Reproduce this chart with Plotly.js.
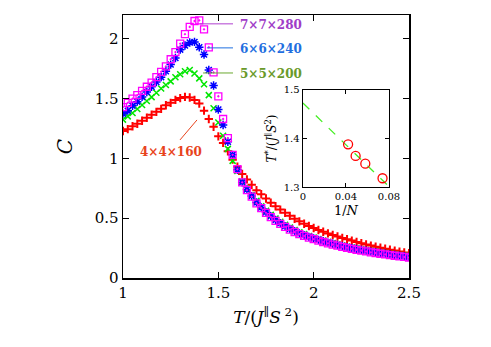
<!DOCTYPE html>
<html>
<head>
<meta charset="utf-8">
<script src="https://cdn.plot.ly/plotly-3.0.1.min.js"></script>
<style>
  html, body { margin: 0; padding: 0; background: #fff; }
  #chart { width: 491px; height: 347px; }
</style>
</head>
<body>
<div id="chart"></div>
<script>
(function () {

	'use strict';

	// temperature grid T/(J S^2)
	const tGrid = [
		1.000, 1.025, 1.050, 1.075, 1.100, 1.125, 1.150, 1.175, 1.200, 1.225,
		1.250, 1.275, 1.300, 1.325, 1.350, 1.375, 1.400, 1.425, 1.450, 1.475,
		1.500, 1.525, 1.550, 1.575, 1.600, 1.625, 1.650, 1.675, 1.700, 1.725,
		1.750, 1.775, 1.800, 1.825, 1.850, 1.875, 1.900, 1.925, 1.950, 1.975,
		2.000, 2.025, 2.050, 2.075, 2.100, 2.125, 2.150, 2.175, 2.200, 2.225,
		2.250, 2.275, 2.300, 2.325, 2.350, 2.375, 2.400, 2.425, 2.450, 2.475,
		2.500
	];

	// specific heat, 4x4x160
	const c4 = [
		1.230, 1.245, 1.270, 1.290, 1.315, 1.340, 1.365, 1.390, 1.415, 1.445,
		1.465, 1.490, 1.505, 1.515, 1.510, 1.490, 1.460, 1.400, 1.330, 1.265,
		1.185, 1.130, 1.060, 0.990, 0.930, 0.870, 0.825, 0.780, 0.735, 0.700,
		0.665, 0.630, 0.600, 0.572, 0.545, 0.520, 0.495, 0.474, 0.454, 0.435,
		0.418, 0.402, 0.387, 0.373, 0.360, 0.347, 0.335, 0.324, 0.313, 0.302,
		0.291, 0.281, 0.271, 0.262, 0.253, 0.245, 0.237, 0.229, 0.221, 0.214,
		0.207
	];

	// 5x5x200
	const c5 = [
		1.325, 1.352, 1.380, 1.413, 1.447, 1.480, 1.513, 1.550, 1.585, 1.615,
		1.645, 1.680, 1.705, 1.730, 1.740, 1.710, 1.670, 1.620, 1.530, 1.420,
		1.300, 1.190, 1.080, 0.980, 0.895, 0.810, 0.750, 0.695, 0.645, 0.600,
		0.562, 0.528, 0.497, 0.470, 0.445, 0.422, 0.401, 0.383, 0.367, 0.352,
		0.339, 0.326, 0.314, 0.303, 0.292, 0.282, 0.273, 0.264, 0.256, 0.248,
		0.241, 0.234, 0.227, 0.221, 0.215, 0.209, 0.203, 0.198, 0.193, 0.188,
		0.183
	];

	// 6x6x240
	const c6 = [
		1.375, 1.400, 1.440, 1.475, 1.515, 1.555, 1.600, 1.640, 1.680, 1.730,
		1.785, 1.840, 1.910, 1.945, 1.970, 1.975, 1.930, 1.870, 1.740, 1.610,
		1.410, 1.280, 1.140, 1.030, 0.905, 0.800, 0.740, 0.685, 0.632, 0.590,
		0.550, 0.516, 0.485, 0.458, 0.434, 0.411, 0.391, 0.373, 0.358, 0.344,
		0.331, 0.319, 0.307, 0.296, 0.286, 0.276, 0.267, 0.258, 0.250, 0.242,
		0.235, 0.228, 0.221, 0.215, 0.209, 0.203, 0.197, 0.192, 0.187, 0.182,
		0.177
	];

	// 7x7x280
	const c7 = [
		1.430, 1.465, 1.500, 1.530, 1.565, 1.600, 1.635, 1.680, 1.725, 1.770,
		1.830, 1.890, 1.960, 2.040, 2.100, 2.150, 2.155, 2.080, 1.930, 1.720,
		1.520, 1.330, 1.170, 1.030, 0.910, 0.800, 0.735, 0.680, 0.625, 0.585,
		0.545, 0.510, 0.478, 0.452, 0.428, 0.405, 0.385, 0.367, 0.352, 0.338,
		0.325, 0.313, 0.301, 0.290, 0.280, 0.270, 0.261, 0.252, 0.244, 0.236,
		0.229, 0.222, 0.215, 0.209, 0.203, 0.197, 0.191, 0.186, 0.181, 0.176,
		0.171
	];

	// inset: peak temperature vs 1/N
	const invN = [0.042, 0.049, 0.058, 0.074];
	const tPeak = [1.388, 1.364, 1.348, 1.318];
	const fitX = [0, 0.08];
	const fitY = [1.473, 1.301];

	const sizeLabels = ['4×4×160', '5×5×200', '6×6×240', '7×7×280'];

	const serif = 'DejaVu Serif';

	const data = [
		{
			x: tGrid, y: c4, name: sizeLabels[0], type: 'scatter', mode: 'markers',
			marker: { symbol: 'cross-thin-open', size: 6, color: '#ff0000', line: { color: '#ff0000', width: 2 } }
		},
		{
			x: tGrid, y: c5, name: sizeLabels[1], type: 'scatter', mode: 'markers',
			marker: { symbol: 'x-thin-open', size: 6, color: '#00e600', line: { color: '#00e600', width: 1.5 } }
		},
		{
			x: tGrid, y: c6, name: sizeLabels[2], type: 'scatter', mode: 'markers',
			marker: { symbol: 'asterisk-open', size: 7, color: '#0000ff', line: { color: '#0000ff', width: 1.5 } }
		},
		{
			x: tGrid, y: c7, name: sizeLabels[3], type: 'scatter', mode: 'markers',
			marker: { symbol: 'square-open-dot', size: 7, color: '#ff00ff', line: { color: '#ff00ff', width: 1.3 } }
		},
		{
			x: fitX, y: fitY, xaxis: 'x2', yaxis: 'y2', type: 'scatter', mode: 'lines',
			line: { color: '#44ee22', width: 1.3, dash: 'dash' }
		},
		{
			x: invN, y: tPeak, xaxis: 'x2', yaxis: 'y2', type: 'scatter', mode: 'markers',
			marker: { symbol: 'circle-open', size: 9, color: '#ff0000', line: { color: '#ff0000', width: 1.3 } }
		}
	];

	const axisBase = {
		showgrid: false, zeroline: false, showline: true, mirror: 'ticks',
		linecolor: '#000', linewidth: 1.5, ticks: 'inside', ticklen: 6,
		tickcolor: '#000', tickwidth: 1
	};

	const layout = {
		width: 491, height: 347,
		margin: { l: 123, r: 82, t: 15, b: 69 },
		paper_bgcolor: '#fff', plot_bgcolor: 'rgba(0,0,0,0)',
		showlegend: false,
		font: { family: serif, color: '#000' },
		xaxis: Object.assign({}, axisBase, {
			range: [1, 2.5], tickvals: [1, 1.5, 2, 2.5], domain: [0, 1],
			tickfont: { size: 15 },
			title: { text: '<i>T</i>/(<i>J</i><sup>∥</sup><i>S</i><sup> 2</sup>)', font: { size: 17 }, standoff: 10 }
		}),
		yaxis: Object.assign({}, axisBase, {
			range: [0, 2.2], tickvals: [0, 0.5, 1, 1.5, 2], ticktext: ['0', '0.5', '1', '1.5', '2'],
			tickfont: { size: 15 },
			title: { text: '<i>C</i>', font: { size: 20 }, standoff: 16 }
		}),
		xaxis2: Object.assign({}, axisBase, {
			anchor: 'y2', domain: [0.629, 0.93], range: [0, 0.08],
			tickvals: [0, 0.04, 0.08], ticklen: 4, linewidth: 1.3,
			tickfont: { size: 10 },
			title: { text: '1/<i>N</i>', font: { size: 13 }, standoff: 4 }
		}),
		yaxis2: Object.assign({}, axisBase, {
			anchor: 'x2', domain: [0.346, 0.715], range: [1.3, 1.5],
			tickvals: [1.3, 1.4, 1.5], ticklen: 4, linewidth: 1.3,
			tickfont: { size: 10 },
			title: { text: '<i>T</i><sup>*</sup>/(<i>J</i><sup>∥</sup><i>S</i><sup>2</sup>)', font: { size: 12 }, standoff: 4 }
		}),
		shapes: [
			{ type: 'line', xref: 'x', yref: 'y', x0: 1.404, y0: 2.126, x1: 1.577, y1: 2.126, line: { color: '#b040d0', width: 1 } },
			{ type: 'line', xref: 'x', yref: 'y', x0: 1.44, y0: 1.925, x1: 1.577, y1: 1.925, line: { color: '#1f6fe0', width: 1 } },
			{ type: 'line', xref: 'x', yref: 'y', x0: 1.42, y0: 1.715, x1: 1.577, y1: 1.715, line: { color: '#6aa830', width: 1 } },
			{ type: 'line', xref: 'x', yref: 'y', x0: 1.299, y0: 1.155, x1: 1.388, y1: 1.322, line: { color: '#e8431c', width: 1 } }
		],
		annotations: [
			{ xref: 'x', yref: 'y', x: 1.603, y: 2.12, xanchor: 'left', yanchor: 'middle', showarrow: false,
				text: '<b>' + sizeLabels[3] + '</b>', font: { size: 12, color: '#a03cc8' } },
			{ xref: 'x', yref: 'y', x: 1.603, y: 1.917, xanchor: 'left', yanchor: 'middle', showarrow: false,
				text: '<b>' + sizeLabels[2] + '</b>', font: { size: 12, color: '#1f6fe0' } },
			{ xref: 'x', yref: 'y', x: 1.603, y: 1.708, xanchor: 'left', yanchor: 'middle', showarrow: false,
				text: '<b>' + sizeLabels[1] + '</b>', font: { size: 12, color: '#6a9a2a' } },
			{ xref: 'x', yref: 'y', x: 1.254, y: 1.054, xanchor: 'center', yanchor: 'middle', showarrow: false,
				text: '<b>' + sizeLabels[0] + '</b>', font: { size: 12, color: '#e8431c' } }
		]
	};

	Plotly.newPlot('chart', data, layout, { displayModeBar: false, staticPlot: true });

})();
</script>
</body>
</html>
